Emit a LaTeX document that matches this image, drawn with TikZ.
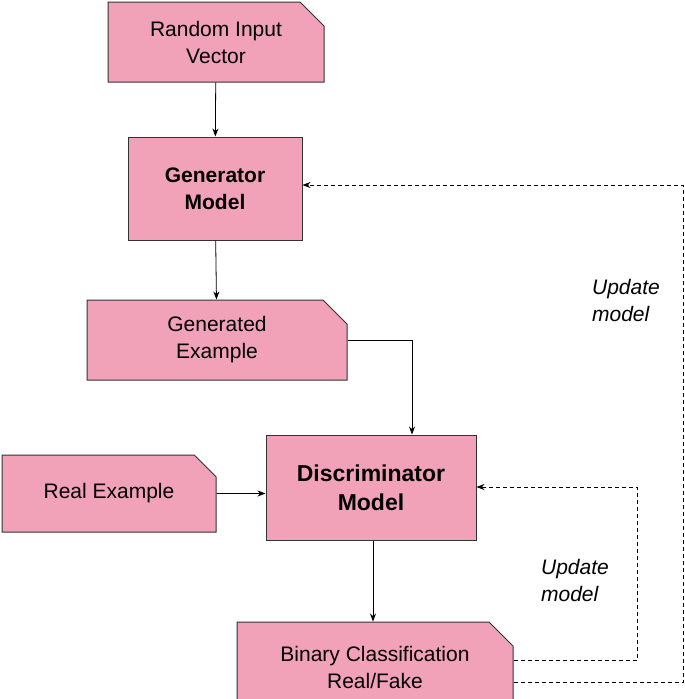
\documentclass[tikz,border=0pt]{standalone}
\usepackage{fontspec}
\setmainfont{Liberation Sans}
\usetikzlibrary{shapes.misc,arrows.meta}
\definecolor{pk}{HTML}{F2A2B8}
\definecolor{bd}{HTML}{333333}
\begin{document}
\begin{tikzpicture}[x=1pt,y=-1pt,
  box/.style={draw=bd,line width=1pt,fill=pk,align=center,inner sep=0pt,font=\fontsize{21}{27}\selectfont},
  fold/.style={box,chamfered rectangle,chamfered rectangle corners=north east,chamfered rectangle xsep=12pt,chamfered rectangle ysep=12pt},
  arr/.style={-{Stealth[length=8pt,width=6pt]},line width=0.8pt},
  dsh/.style={arr,dashed,dash pattern=on 4pt off 3pt,line width=0.6pt},
  lab/.style={font=\fontsize{21}{27}\selectfont\itshape,align=left}]
\useasboundingbox (0,0) rectangle (685,699);
\fill[white] (0,0) rectangle (685,699);
\node[fold,minimum width=216pt,minimum height=80pt] (rin) at (216,42) {Random Input\\Vector};
\node[box,minimum width=174pt,minimum height=103pt,font=\fontsize{21}{27}\selectfont\bfseries] (gen) at (215,188.5) {Generator\\Model};
\node[fold,minimum width=260pt,minimum height=80pt] (gex) at (217,340) {Generated\\Example};
\node[box,minimum width=210pt,minimum height=105pt,font=\fontsize{23}{29}\selectfont\bfseries] (dis) at (371,487.5) {Discriminator\\Model};
\node[fold,minimum width=214pt,minimum height=77pt] (rex) at (109,493.5) {Real Example};
\node[fold,minimum width=276pt,minimum height=90pt] (bin) at (375,667) {Binary Classification\\Real/Fake};
\draw[arr] (rin) -- (gen);
\draw[arr] (gen) -- (gex);
\draw[arr] (gex.east |- 0,340) -| (412,0 |- dis.north);
\draw[arr] (rex) -- (rex -| dis.west);
\draw[arr] (dis.south -| 373,0) -- (bin.north -| 373,0);
\coordinate (c1) at (637,660);
\coordinate (c2) at (683,682);
\draw[dsh] (bin.east |- c1) -- (c1) |- (dis.east |- 0,487);
\draw[dsh] (bin.east |- c2) -- (c2) |- (gen.east |- 0,185);
\node[lab] (u1) at (626,300) {Update\\model};
\node[lab] (u2) at (575,580) {Update\\model};
\end{tikzpicture}
\end{document}
